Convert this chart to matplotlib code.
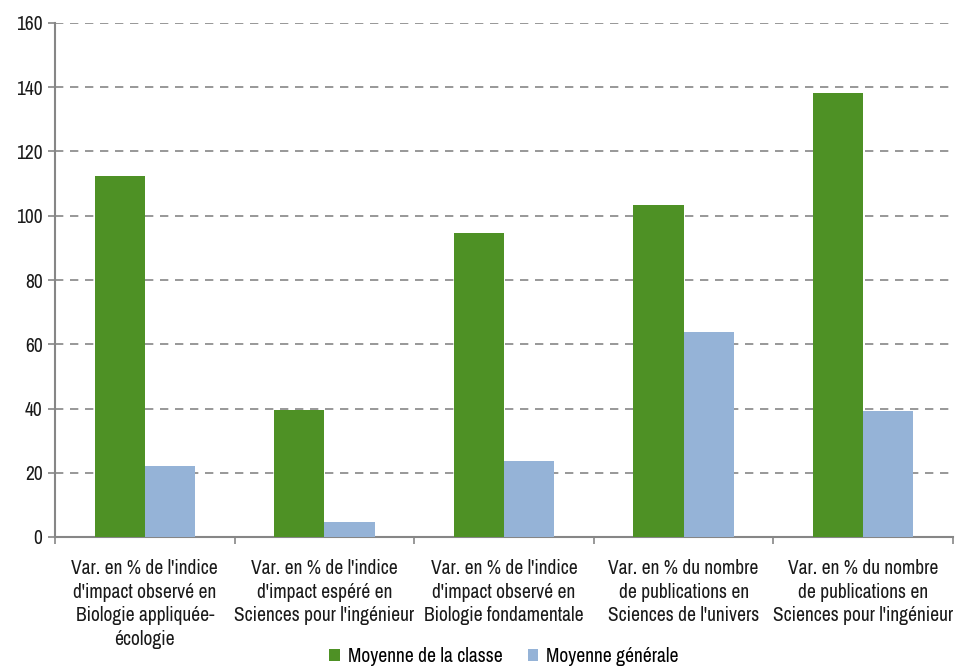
import matplotlib
matplotlib.use("Agg")
import matplotlib.pyplot as plt
from matplotlib import font_manager
import numpy as np

categories = [
    "Var. en % de l'indice\nd'impact observé en\nBiologie appliquée-\nécologie",
    "Var. en % de l'indice\nd'impact espéré en\nSciences pour l'ingénieur",
    "Var. en % de l'indice\nd'impact observé en\nBiologie fondamentale",
    "Var. en % du nombre\nde publications en\nSciences de l'univers",
    "Var. en % du nombre\nde publications en\nSciences pour l'ingénieur",
]
moyenne_classe = [112.4, 39.6, 94.7, 103.4, 138.3]
moyenne_generale = [22.1, 4.6, 23.7, 63.9, 39.3]
series_labels = ["Moyenne de la classe", "Moyenne générale"]
y_ticks = [0, 20, 40, 60, 80, 100, 120, 140, 160]

installed = {f.name for f in font_manager.fontManager.ttflist}
family = "Liberation Sans"
for cand in ["Liberation Sans Narrow", "Arial Narrow", "Archivo Narrow",
             "PT Sans Narrow", "Roboto Condensed", "Pragati Narrow"]:
    if cand in installed:
        family = cand
        break
plt.rcParams["font.family"] = [family, "DejaVu Sans"]

green = "#4E9125"
blue = "#95B3D7"
gray = "#868686"
text_color = "#1a1a1a"

fig = plt.figure(figsize=(9.6, 6.7), dpi=100)
ax = fig.add_axes([55 / 960, 1 - 537 / 670, 898 / 960, 514 / 670])

x = np.arange(len(categories))
w = 0.28
ax.bar(x - w / 2, moyenne_classe, width=w, color=green, label=series_labels[0], zorder=3)
ax.bar(x + w / 2, moyenne_generale, width=w, color=blue, label=series_labels[1], zorder=3)

ax.set_xlim(-0.5, len(categories) - 0.5)
ax.set_ylim(0, 160)
ax.set_yticks(y_ticks)
ax.set_yticklabels([str(v) for v in y_ticks], fontsize=14, color=text_color)
ax.yaxis.grid(True, linestyle=(0, (5, 4)), color=gray, linewidth=1.2, zorder=0)

ax.set_xticks(x)
ax.set_xticklabels(categories, fontsize=14, color=text_color, linespacing=1.3)
ax.set_xticks(np.arange(-0.5, len(categories)), minor=True)
ax.tick_params(axis="x", which="major", length=0, pad=16)
ax.tick_params(axis="x", which="minor", length=5, color=gray, width=1.2)
ax.tick_params(axis="y", length=5, color=gray, width=1.2, pad=4)

for side in ("top", "right"):
    ax.spines[side].set_visible(False)
for side in ("left", "bottom"):
    ax.spines[side].set_color(gray)
    ax.spines[side].set_linewidth(1.5)

ax.legend(loc="lower center", bbox_to_anchor=(0.5, -0.266), ncol=2, frameon=False,
          fontsize=14, handlelength=0.55, handleheight=0.55, handletextpad=0.4,
          columnspacing=1.3, borderaxespad=0)

fig.savefig("out.png", dpi=100)
